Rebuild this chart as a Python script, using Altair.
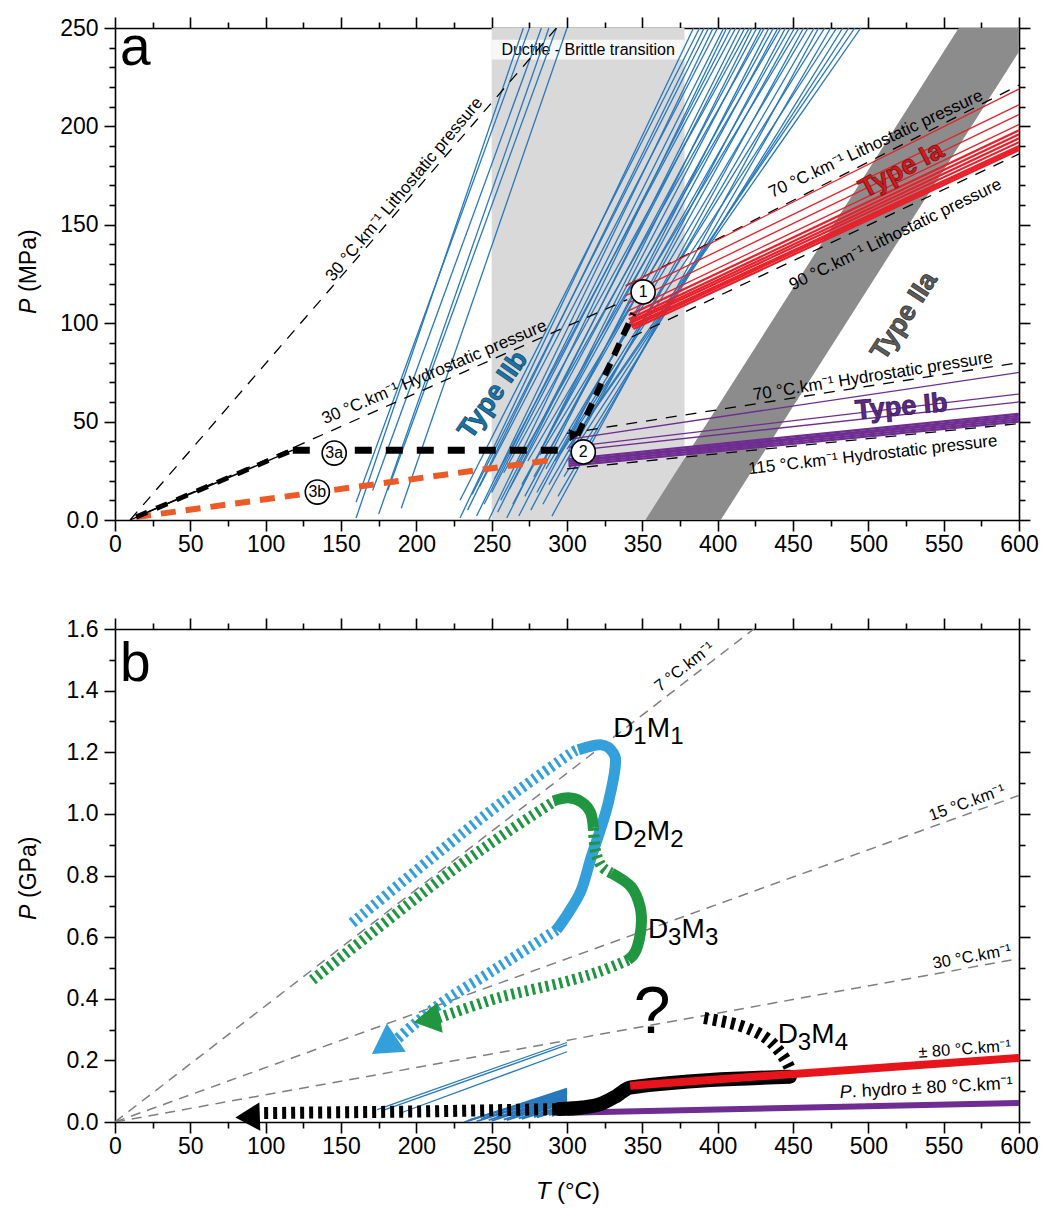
import altair as alt
import pandas as pd

FONT = "Liberation Sans"
W, HA, HB = 904, 492, 493

# ======================= Panel a data (T in °C, P in MPa) =======================
dbt_t0, dbt_t1 = [250], [378]            # ductile-brittle transition field
dbt_box_p0, dbt_box_p1 = [234], [244]    # white label box

iia_p = [0, 250]                         # Type IIa band
iia_tl = [352, 560]
iia_tr = [402, 610]

# Type IIb isochores (blue): left group
iibL_t0 = [160, 160, 171, 175, 181, 190]
iibL_p0 = [1, 9, 15, 3, 15, 6]
iibL_t1 = [271, 275, 283, 288, 293, 300]
iibL_p1 = [250, 250, 250, 250, 250, 250]
# Type IIb isochores (blue): main group
iib_t0 = [229, 229, 234, 237, 240, 242, 245, 248, 250, 252, 254, 256, 258, 260, 262, 264, 266, 268,
          270, 272, 274, 276, 278, 280, 282, 284, 286, 288, 290, 292, 294, 296, 298, 300, 300, 302]
iib_p0 = [1, 10, 5, 13, 2, 17, 8, 0, 14, 21, 4, 10, 24, 1, 16, 8, 27, 2,
          18, 12, 30, 5, 22, 14, 33, 8, 26, 18, 2, 30, 12, 34, 22, 30, 36, 38]
iib_t1 = [384, 388, 391, 394, 397, 400, 404, 406, 409, 412, 415, 418, 421, 423, 426, 429, 431, 434,
          437, 440, 442, 445, 448, 451, 454, 457, 460, 464, 467, 471, 475, 479, 483, 487, 491, 495]
iib_p1 = [250] * 36

# Type Ia (red)
ia_t0 = [339, 339, 340, 340, 341, 341, 342, 342, 343, 343, 344]
ia_p0 = [119, 114, 110, 106, 104, 102, 101, 100, 99, 98, 97]
ia_t1 = [600] * 11
ia_p1 = [219, 211, 206, 201, 198, 196, 194, 192, 190, 189, 188]
ia_w = [1.3, 1.3, 1.3, 1.3, 2.2, 2.2, 2.2, 2.2, 2.2, 2.2, 2.2]

# Type Ib (purple)
ib_t0 = [301] * 8
ib_p0 = [41, 37, 35, 31, 30, 29.5, 28.5, 27.5]
ib_t1 = [600] * 8
ib_p1 = [75, 64, 60, 54, 53, 52, 51, 50]
ib_w = [1.3, 1.3, 1.3, 2.2, 2.2, 2.2, 2.2, 2.2]

# Reference geotherm pressure lines (black dashed)
ref_t0 = [10, 10, 339, 343, 300, 300]
ref_p0 = [0, 0, 119, 93, 44, 26]
ref_t1 = [293, 340, 600, 600, 600, 600]
ref_p1 = [250, 112, 221, 186, 80, 49]

ref_lab = ["30 °C.km⁻¹ Lithostatic pressure", "30 °C.km⁻¹ Hydrostatic pressure",
           "70 °C.km⁻¹ Lithostatic pressure", "90 °C.km⁻¹ Lithostatic pressure",
           "70 °C.km⁻¹ Hydrostatic pressure", "115 °C.km⁻¹ Hydrostatic pressure"]
ref_lab_t = [192, 212, 505, 518, 503, 503]
ref_lab_p = [168, 75, 191, 145, 73, 33]
ref_lab_ang = [310, 337, 335, 334, 351, 353.5]

# Paths 3a / 3b and 2 -> 1
p3a_slope_t = [14, 118]
p3a_slope_p = [1.5, 35.5]
p3a_flat_t = [118, 306]
p3a_flat_p = [35.5, 35.5]
p3b_t = [14, 290]
p3b_p = [1.5, 30.5]
p21_t = [307, 344]
p21_p = [43, 105]
p21_head_t, p21_head_p = [303.5], [42.5]

circ_lab = ["1", "2", "3a", "3b"]
circ_t = [350.5, 310.8, 145.5, 134.3]
circ_p = [115.9, 34.6, 34.0, 14.2]

type_lab = ["Type IIb", "Type Ia", "Type IIa", "Type Ib"]
type_t = [251, 522, 524, 522]
type_p = [63.5, 178, 103.6, 57.4]
type_ang = [305, 332, 303, 355]
type_fill = ["#1b74a8", "#d7191c", "#5c5c5c", "#5b2a86"]
type_stroke = ["#0d4a70", "#7a0d10", "#333333", "#3a1656"]

# ======================= Panel b data (T in °C, P in GPa) =======================
geo_t1 = [424, 600, 600]
geo_p1 = [1.6, 1.06, 0.53]
geo_lab = ["7 °C.km⁻¹", "15 °C.km⁻¹", "30 °C.km⁻¹", "± 80 °C.km⁻¹"]
geo_lab_t = [378, 565.5, 568.8, 564]
geo_lab_p = [1.477, 1.036, 0.536, 0.236]
geo_lab_ang = [322.5, 340.2, 349.8, 355.8]

# D1M1 (blue)
b1_up_t = [157.4, 210.3, 254.6, 299.0, 307.5]
b1_up_p = [0.646, 0.857, 1.029, 1.185, 1.208]
b1_loop_t = [307.5, 322.8, 330.7, 332.0, 327.4, 322.1, 316.1, 309.5, 300.9, 293.0]
b1_loop_p = [1.208, 1.224, 1.198, 1.153, 1.036, 0.948, 0.860, 0.753, 0.679, 0.623]
b1_down_t = [293.0, 254.6, 214.9, 186.5]
b1_down_p = [0.623, 0.503, 0.380, 0.266]

# D2M2 / D3M3 (green)
g_up_t = [131.0, 210.3, 254.6, 291.0]
g_up_p = [0.461, 0.766, 0.922, 1.039]
g_top_t = [291.0, 300.9, 309.5, 315.5, 317.5]
g_top_p = [1.042, 1.052, 1.039, 1.006, 0.955]
g_mid_t = [317.5, 318.8, 322.8, 329.4]
g_mid_p = [0.955, 0.883, 0.831, 0.808]
g_low_t = [329.4, 342.6, 348.5, 349.2, 345.9, 340.6]
g_low_p = [0.808, 0.763, 0.698, 0.633, 0.558, 0.526]
g_down_t = [340.6, 320.8, 295.6, 254.6, 214.9]
g_down_p = [0.526, 0.487, 0.451, 0.403, 0.338]

# D3M4 and retrograde path (black)
k_hatch_t = [99, 200, 297]
k_hatch_p = [0.029, 0.034, 0.042]
k_solid_t = [295, 310, 322, 333, 342, 448]
k_solid_p = [0.042, 0.047, 0.058, 0.085, 0.112, 0.147]
k_arc_t = [448.5, 447.8, 441.8, 431.2, 413.4, 388.0]
k_arc_p = [0.150, 0.175, 0.224, 0.276, 0.315, 0.340]

red_t, red_p = [342, 600], [0.118, 0.208]
pur_t, pur_p = [300, 600], [0.030, 0.062]

# isochores in panel b (blue)
bi_L_t0 = [174, 177, 190]
bi_L_p0 = [0.040, 0.036, 0.030]
bi_L_t1 = [300, 300, 300]
bi_L_p1 = [0.258, 0.250, 0.228]
bi_t0 = [232, 234, 236, 240, 243, 245, 248, 250, 253, 255, 258, 260, 263, 265, 268, 270, 273, 275,
         278, 280, 283, 285, 288, 290, 293, 295]
bi_p0 = [0.000, 0.004, 0.008, 0.002, 0.010, 0.012, 0.006, 0.004, 0.014, 0.015, 0.008, 0.006, 0.018,
         0.020, 0.012, 0.010, 0.022, 0.025, 0.016, 0.015, 0.026, 0.028, 0.022, 0.020, 0.030, 0.032]
bi_t1 = [300] * 26
bi_p1 = [0.108, 0.104, 0.100, 0.094, 0.097, 0.095, 0.088, 0.082, 0.090, 0.085, 0.076, 0.070, 0.080,
         0.075, 0.064, 0.056, 0.068, 0.065, 0.052, 0.046, 0.058, 0.055, 0.044, 0.036, 0.048, 0.045]

arrow_t = [178.6, 207.0, 88.0]
arrow_p = [0.247, 0.331, 0.016]
arrow_ang = [236, 260, 268]
arrow_col = ["#33a0dc", "#1f963f", "#000000"]
arrow_size = [1150, 950, 800]

dm_base = ["D", "D", "D", "D"]
dm_s1 = ["1", "2", "3", "3"]
dm_s2 = ["1", "2", "3", "4"]
dm_t = [330.7, 330.7, 353.8, 439.8]
dm_p = [1.248, 0.916, 0.597, 0.257]

# ======================= helpers =======================
sxa = alt.Scale(domain=[0, 600], nice=False, zero=False)
sya = alt.Scale(domain=[0, 250], nice=False, zero=False)
syb = alt.Scale(domain=[0, 1.6], nice=False, zero=False)


def segs(t0, p0, t1, p1, w=None):
    rows = []
    for i in range(len(t0)):
        ww = w[i] if w else 1
        rows.append(dict(id=i, o=0, T=t0[i], P=p0[i], w=ww))
        rows.append(dict(id=i, o=1, T=t1[i], P=p1[i], w=ww))
    return pd.DataFrame(rows)


def path(ts, ps):
    return pd.DataFrame(dict(id=[0] * len(ts), o=list(range(len(ts))), T=ts, P=ps))


def XY(sx, sy):
    return dict(x=alt.X("T:Q", scale=sx, axis=None), y=alt.Y("P:Q", scale=sy, axis=None))


def lines(df, sx, sy, color, width=None, dash=None, interp="linear", cap="butt", opacity=1):
    props = dict(color=color, clip=True, interpolate=interp, strokeCap=cap, opacity=opacity,
                 strokeJoin="round")
    if dash is not None:
        props["strokeDash"] = dash
    enc = XY(sx, sy)
    enc.update(detail="id:N", order="o:Q")
    if width is None:
        enc["strokeWidth"] = alt.StrokeWidth("w:Q", scale=None)
    else:
        props["strokeWidth"] = width
    return alt.Chart(df).mark_line(**props).encode(**enc)


def texts(df, sx, sy, size, color="black", weight="normal", style="normal", align="center",
          baseline="middle", angle=None, dx=0, dy=0, stroke=None, sw=0, field="label"):
    props = dict(font=FONT, fontSize=size, color=color, fontWeight=weight, fontStyle=style,
                 align=align, baseline=baseline, dx=dx, dy=dy)
    if stroke:
        props["stroke"] = stroke
        props["strokeWidth"] = sw
    enc = XY(sx, sy)
    enc["text"] = alt.Text(field + ":N")
    if angle is not None:
        props["angle"] = angle
    elif "ang" in df.columns:
        enc["angle"] = alt.Angle("ang:Q", scale=None)
    return alt.Chart(df).mark_text(**props).encode(**enc)


def free_text(txt, x, y, size, angle=0, style="normal", align="left", baseline="middle", weight="normal"):
    return alt.Chart(pd.DataFrame({"label": [txt]})).mark_text(
        font=FONT, fontSize=size, color="black", fontStyle=style, align=align,
        baseline=baseline, angle=angle, fontWeight=weight).encode(
        x=alt.value(x), y=alt.value(y), text="label:N")


def mk_axis(orient, values, test, labels, expr=None, pad=3):
    kw = dict(orient=orient, values=values, title=None, grid=False, domain=True,
              domainColor="black", domainWidth=1.6, ticks=True, tickColor="black", tickWidth=1.6,
              tickSize={"condition": {"test": test, "value": 11}, "value": 6},
              labels=labels, labelFlush=False, labelOverlap=False, labelFont=FONT,
              labelFontSize=23, labelColor="black", labelPadding=pad)
    if expr:
        kw["labelExpr"] = expr
    return alt.Axis(**kw)


def axes_layers(sx, sy, yvals, ytest, yexpr):
    xvals = list(range(0, 601, 25))
    xtest = "datum.value % 50 === 0"
    xexpr = "datum.value % 50 === 0 ? datum.label : ''"
    d = pd.DataFrame({"T": [0], "P": [0]})
    bl = alt.Chart(d).mark_point(opacity=0).encode(
        x=alt.X("T:Q", scale=sx, axis=mk_axis("bottom", xvals, xtest, True, xexpr, pad=2)),
        y=alt.Y("P:Q", scale=sy, axis=mk_axis("left", yvals, ytest, True, yexpr, pad=6)))
    tr = alt.Chart(d).mark_point(opacity=0).encode(
        x=alt.X("T:Q", scale=sx, axis=mk_axis("top", xvals, xtest, False)),
        y=alt.Y("P:Q", scale=sy, axis=mk_axis("right", yvals, ytest, False)))
    return [bl, tr]


# ======================= Panel a =======================
A = []
A.append(alt.Chart(pd.DataFrame({"T": dbt_t0, "T2": dbt_t1})).mark_rect(color="#d9d9d9").encode(
    x=alt.X("T:Q", scale=sxa, axis=None), x2="T2:Q", y=alt.value(0), y2=alt.value(HA)))
A.append(alt.Chart(pd.DataFrame({"T": dbt_t0, "T2": dbt_t1, "P": dbt_box_p0, "P2": dbt_box_p1}))
         .mark_rect(color="#f7f7f7").encode(
    x=alt.X("T:Q", scale=sxa, axis=None), x2="T2:Q",
    y=alt.Y("P:Q", scale=sya, axis=None), y2="P2:Q"))
A.append(alt.Chart(pd.DataFrame({"label": ["Ductile - Brittle transition"],
                                 "T": [(dbt_t0[0] + dbt_t1[0]) / 2], "P": [239]}))
         .mark_text(font=FONT, fontSize=16, color="black").encode(text="label:N", **XY(sxa, sya)))
A.append(alt.Chart(pd.DataFrame({"P": iia_p, "T": iia_tl, "T2": iia_tr})).mark_area(
    color="#8c8c8c", orient="horizontal", clip=True, opacity=1).encode(
    y=alt.Y("P:Q", scale=sya, axis=None), x=alt.X("T:Q", scale=sxa, axis=None), x2="T2:Q"))
A.append(lines(segs(iibL_t0, iibL_p0, iibL_t1, iibL_p1), sxa, sya, "#2878bd", 1.3))
A.append(lines(segs(iib_t0, iib_p0, iib_t1, iib_p1), sxa, sya, "#2878bd", 1.3))
A.append(lines(segs(ref_t0, ref_p0, ref_t1, ref_p1), sxa, sya, "black", 1.3, dash=[11, 9]))
A.append(lines(segs(ia_t0, ia_p0, ia_t1, ia_p1, ia_w), sxa, sya, "#e8202a"))
A.append(lines(segs(ib_t0, ib_p0, ib_t1, ib_p1, ib_w), sxa, sya, "#6f2c91"))
A.append(lines(path(p3b_t, p3b_p), sxa, sya, "#ec5a26", 6, dash=[15, 10]))
A.append(lines(path(p3a_slope_t, p3a_slope_p), sxa, sya, "black", 1.5))
A.append(lines(path(p3a_slope_t, p3a_slope_p), sxa, sya, "black", 5, dash=[12, 10]))
A.append(lines(path(p3a_flat_t, p3a_flat_p), sxa, sya, "black", 7, dash=[17, 14]))
A.append(lines(path(p21_t, p21_p), sxa, sya, "black", 6, dash=[13, 9]))
A.append(alt.Chart(pd.DataFrame({"T": p21_head_t, "P": p21_head_p})).mark_point(
    shape="triangle-up", filled=True, color="black", opacity=1, size=150, angle=205).encode(**XY(sxa, sya)))
circ_df = pd.DataFrame({"label": circ_lab, "T": circ_t, "P": circ_p})
A.append(alt.Chart(circ_df).mark_point(shape="circle", filled=True, fill="white", stroke="black",
                                       strokeWidth=1.6, size=580, opacity=1).encode(**XY(sxa, sya)))
A.append(texts(circ_df, sxa, sya, 16, angle=0))
A.append(texts(pd.DataFrame({"label": ref_lab, "T": ref_lab_t, "P": ref_lab_p, "ang": ref_lab_ang}),
               sxa, sya, 17))
for i in range(len(type_lab)):
    A.append(texts(pd.DataFrame({"label": [type_lab[i]], "T": [type_t[i]], "P": [type_p[i]]}),
                   sxa, sya, 27, color=type_fill[i], weight="bold", angle=type_ang[i],
                   stroke=type_stroke[i], sw=0.8))
A.append(free_text("a", 5, 37, 55, baseline="alphabetic"))
A.append(free_text("P", -86, 286, 23, angle=270, style="italic"))
A.append(free_text("(MPa)", -86, 264, 23, angle=270))
A += axes_layers(sxa, sya, list(range(0, 251, 10)), "datum.value % 50 === 0",
                 "datum.value % 50 === 0 ? (datum.value === 0 ? '0.0' : datum.label) : ''")
panel_a = alt.layer(*A).properties(width=W, height=HA).resolve_axis(x="independent", y="independent")

# ======================= Panel b =======================
B = []
B.append(lines(segs([0, 0, 0], [0, 0, 0], geo_t1, geo_p1), sxa, syb, "#7f7f7f", 1.5, dash=[10, 7]))
B.append(texts(pd.DataFrame({"label": geo_lab, "T": geo_lab_t, "P": geo_lab_p, "ang": geo_lab_ang}),
               sxa, syb, 16.5))
B.append(lines(segs(bi_L_t0, bi_L_p0, bi_L_t1, bi_L_p1), sxa, syb, "#2878bd", 1.3))
B.append(lines(segs(bi_t0, bi_p0, bi_t1, bi_p1), sxa, syb, "#2878bd", 1.8))
B.append(lines(path(pur_t, pur_p), sxa, syb, "#6f2c91", 6))
B.append(lines(path(k_hatch_t, k_hatch_p), sxa, syb, "black", 12, dash=[4, 5]))
B.append(lines(path(k_solid_t, k_solid_p), sxa, syb, "black", 14, interp="monotone", cap="round"))
B.append(lines(path(k_arc_t, k_arc_p), sxa, syb, "black", 12, dash=[4, 5], interp="cardinal"))
B.append(lines(path(red_t, red_p), sxa, syb, "#e8141c", 8))
B.append(lines(path(b1_up_t, b1_up_p), sxa, syb, "#33a0dc", 11, dash=[3, 4], interp="cardinal"))
B.append(lines(path(b1_loop_t, b1_loop_p), sxa, syb, "#33a0dc", 11, interp="cardinal"))
B.append(lines(path(b1_down_t, b1_down_p), sxa, syb, "#33a0dc", 11, dash=[3, 4], interp="cardinal"))
B.append(lines(path(g_up_t, g_up_p), sxa, syb, "#1f963f", 11, dash=[3, 4], interp="cardinal"))
B.append(lines(path(g_top_t, g_top_p), sxa, syb, "#1f963f", 11, interp="cardinal"))
B.append(lines(path(g_mid_t, g_mid_p), sxa, syb, "#1f963f", 11, dash=[3, 4], interp="cardinal"))
B.append(lines(path(g_low_t, g_low_p), sxa, syb, "#1f963f", 11, interp="cardinal"))
B.append(lines(path(g_down_t, g_down_p), sxa, syb, "#1f963f", 11, dash=[3, 4], interp="cardinal"))
arr_df = pd.DataFrame({"T": arrow_t, "P": arrow_p, "ang": arrow_ang, "c": arrow_col, "s": arrow_size})
B.append(alt.Chart(arr_df).mark_point(shape="triangle-up", filled=True, opacity=1).encode(
    color=alt.Color("c:N", scale=None), angle=alt.Angle("ang:Q", scale=None),
    size=alt.Size("s:Q", scale=None), **XY(sxa, syb)))
dm_df = pd.DataFrame({"b": dm_base, "s1": dm_s1, "s2": dm_s2, "m": ["M"] * 4, "T": dm_t, "P": dm_p})
B.append(texts(dm_df, sxa, syb, 28, align="left", baseline="alphabetic", angle=0, field="b"))
B.append(texts(dm_df, sxa, syb, 24, align="left", baseline="alphabetic", angle=0, dx=20, dy=7, field="s1"))
B.append(texts(dm_df, sxa, syb, 28, align="left", baseline="alphabetic", angle=0, dx=33.5, field="m"))
B.append(texts(dm_df, sxa, syb, 24, align="left", baseline="alphabetic", angle=0, dx=57, dy=7, field="s2"))
B.append(texts(pd.DataFrame({"label": ["?"], "T": [356.5], "P": [0.354]}), sxa, syb, 66, angle=0))
B.append(texts(pd.DataFrame({"label": ["P"], "T": [481], "P": [0.094]}), sxa, syb, 18,
               style="italic", align="left", angle=357))
B.append(texts(pd.DataFrame({"label": [". hydro ± 80 °C.km⁻¹"], "T": [489], "P": [0.0965]}), sxa, syb, 18,
               align="left", angle=357))
B.append(free_text("b", 5, 52, 55, baseline="alphabetic"))
B.append(free_text("P", -86, 291, 23, angle=270, style="italic"))
B.append(free_text("(GPa)", -86, 269, 23, angle=270))
B.append(free_text("T", 421, 563, 24, style="italic"))
B.append(free_text("(°C)", 442, 563, 24))
B += axes_layers(sxa, syb, [round(i * 0.1, 1) for i in range(17)],
                 "round(datum.value * 10) % 2 === 0",
                 "round(datum.value * 10) % 2 === 0 ? format(datum.value, '.1f') : ''")
panel_b = alt.layer(*B).properties(width=W, height=HB).resolve_axis(x="independent", y="independent")

chart = alt.vconcat(panel_a, panel_b, spacing=61).properties(
    padding={"left": 10, "top": 8, "right": 0, "bottom": 0}
).configure_view(stroke=None)

chart.save("out.html", embed_options={"renderer": "svg", "actions": False})
